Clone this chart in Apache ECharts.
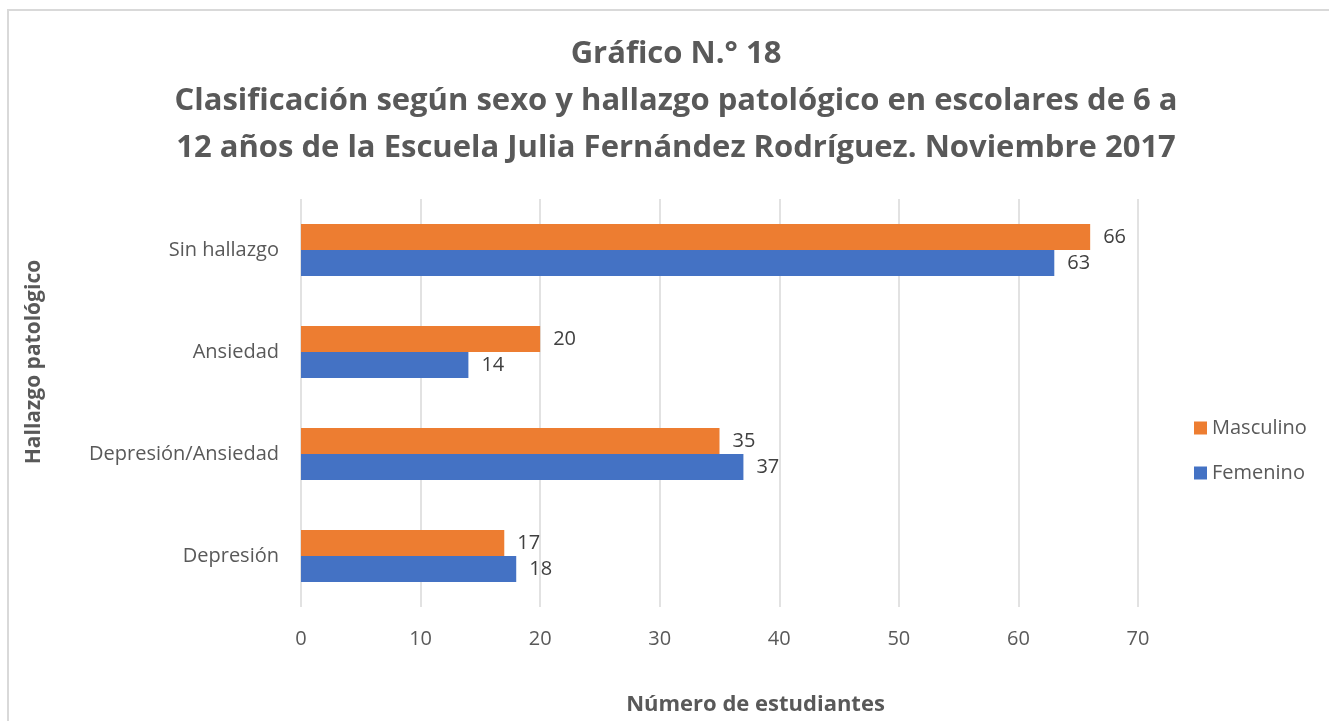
<!DOCTYPE html>
<html>
<head>
<meta charset="utf-8">
<script src="https://cdn.jsdelivr.net/npm/echarts@6/dist/echarts.min.js"></script>
<style>
html,body{margin:0;padding:0;background:#fff;}
#chart{width:1329px;height:721px;}
</style>
</head>
<body>
<div id="chart"></div>
<script>
var categories = ['Depresión', 'Depresión/Ansiedad', 'Ansiedad', 'Sin hallazgo'];
var masculino = [17, 35, 20, 66];
var femenino = [18, 37, 14, 63];
var xTicks = { min: 0, max: 70, interval: 10 };

var font = 'Open Sans';
var chart = echarts.init(document.getElementById('chart'));

var option = {
    backgroundColor: '#fff',
    textStyle: { fontFamily: font },
    graphic: [{
        type: 'rect',
        shape: { x: 8, y: 10, width: 1340, height: 740 },
        style: { fill: 'none', stroke: '#d9d9d9', lineWidth: 2 },
        silent: true
    }],
    title: {
        text: 'Gráfico N.° 18\nClasificación según sexo y hallazgo patológico en escolares de 6 a\n12 años de la Escuela Julia Fernández Rodríguez. Noviembre 2017',
        left: 671,
        top: 26,
        textAlign: 'center',
        textStyle: {
            fontFamily: font,
            fontSize: 31,
            fontWeight: 'bold',
            color: '#595959',
            lineHeight: 47
        }
    },
    legend: {
        data: ['Masculino', 'Femenino'],
        orient: 'vertical',
        left: 1189,
        top: 413,
        itemWidth: 13,
        itemHeight: 13,
        itemGap: 25,
        icon: 'rect',
        textStyle: { fontFamily: font, fontSize: 20, color: '#595959' }
    },
    grid: {
        left: 301,
        right: 1329 - 1138,
        top: 199,
        bottom: 721 - 609,
        containLabel: false
    },
    xAxis: {
        type: 'value',
        min: xTicks.min,
        max: xTicks.max,
        interval: xTicks.interval,
        name: 'Número de estudiantes',
        nameLocation: 'middle',
        nameGap: 87,
        nameTextStyle: { fontFamily: font, fontSize: 22, fontWeight: 'bold', color: '#595959', padding: [0, 0, 0, 72] },
        axisLine: { show: false },
        axisTick: { show: false },
        axisLabel: { margin: 22, fontSize: 20, color: '#595959', fontFamily: font },
        splitLine: { lineStyle: { color: '#d9d9d9', width: 1.5 } }
    },
    yAxis: {
        type: 'category',
        data: categories,
        name: 'Hallazgo patológico',
        nameLocation: 'middle',
        nameGap: 256,
        nameRotate: 90,
        nameTextStyle: { fontFamily: font, fontSize: 21, fontWeight: 'bold', color: '#595959', padding: [0, 0, 0, 82] },
        axisLine: { show: false },
        axisTick: { show: false },
        axisLabel: { margin: 22, fontSize: 20, color: '#595959', fontFamily: font }
    },
    series: [{
        name: 'Masculino',
        type: 'bar',
        data: masculino,
        barWidth: 26,
        barGap: '0%',
        itemStyle: { color: '#ED7D31' },
        label: { show: true, position: 'right', distance: 13, fontSize: 20, color: '#404040', fontFamily: font }
    }, {
        name: 'Femenino',
        type: 'bar',
        data: femenino,
        barWidth: 26,
        barGap: '0%',
        itemStyle: { color: '#4472C4' },
        label: { show: true, position: 'right', distance: 13, fontSize: 20, color: '#404040', fontFamily: font }
    }]
};
chart.setOption(option);
</script>
</body>
</html>
